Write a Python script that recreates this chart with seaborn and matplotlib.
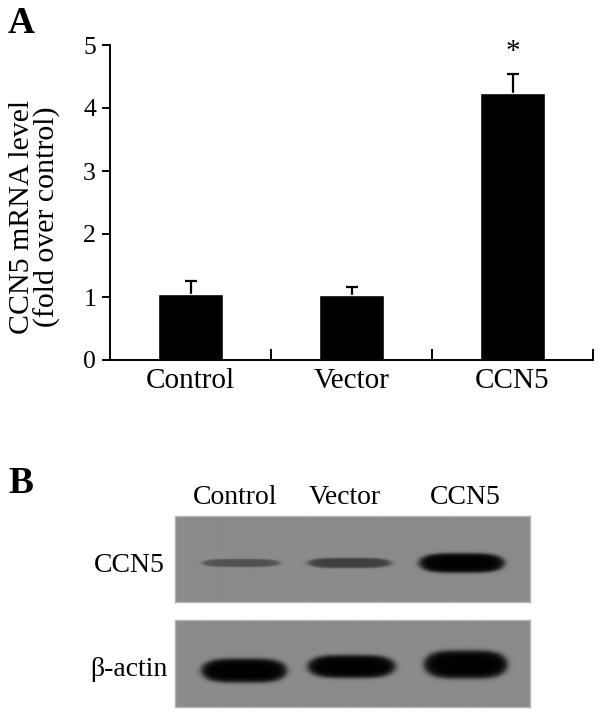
import numpy as np
import pandas as pd
import matplotlib
matplotlib.use("Agg")
import matplotlib.pyplot as plt
import seaborn as sns

# --- data ---
groups = ["Control", "Vector", "CCN5"]
mrna_fold = [1.04, 1.03, 4.24]
mrna_sem = [0.22, 0.13, 0.30]
y_ticks = [0, 1, 2, 3, 4, 5]

lanes = ["Control", "Vector", "CCN5"]
ccn5_band = [0.42, 0.55, 1.00]      # relative band darkness
actin_band = [1.00, 1.00, 1.00]

sns.set_theme(style="white")
plt.rcParams["font.family"] = ["Liberation Serif", "DejaVu Serif"]
plt.rcParams.update({
    "text.color": "black",
    "axes.labelcolor": "black",
    "xtick.color": "black",
    "ytick.color": "black",
})

W, H = 602, 714
fig = plt.figure(figsize=(W / 100, H / 100), dpi=100)


def px_axes(x0, y0, x1, y1):
    return fig.add_axes([x0 / W, 1 - y1 / H, (x1 - x0) / W, (y1 - y0) / H])


# --- Panel A: bar chart ---
ax = px_axes(110, 45, 593, 360)
df = pd.DataFrame({"group": groups, "fold": mrna_fold})
eb = ax.errorbar(range(len(groups)), mrna_fold,
                 yerr=[np.zeros(len(mrna_sem)), mrna_sem],
                 fmt="none", ecolor="black", elinewidth=1.6, capsize=4,
                 capthick=1.6, zorder=1)
eb[1][0].set_visible(False)  # no lower caps
sns.barplot(data=df, x="group", y="fold", color="black", width=0.4,
            errorbar=None, ax=ax, saturation=1, zorder=2)
ax.text(2, mrna_fold[2] + mrna_sem[2] + 0.15, "*", ha="center", va="bottom",
        fontsize=21)

ax.set_xlim(-0.5, 2.5)
ax.set_ylim(0, 5)
ax.set_yticks(y_ticks)
ax.set_yticklabels([str(t) for t in y_ticks], fontsize=18.5)
ax.set_xticks(range(len(groups)))
ax.set_xticklabels(groups, fontsize=21)
ax.tick_params(axis="x", length=0, pad=6)
ax.tick_params(axis="y", direction="out", length=6, width=1.4, pad=4, left=True)
# boundary ticks on x axis, pointing up
ax.set_xticks([0.5, 1.5, 2.5], minor=True)
ax.tick_params(axis="x", which="minor", direction="in", length=8, width=1.4,
               bottom=True)
for s in ["top", "right"]:
    ax.spines[s].set_visible(False)
for s in ["left", "bottom"]:
    ax.spines[s].set_color("black")
    ax.spines[s].set_linewidth(1.4)
ax.set_xlabel("")
ax.set_ylabel("CCN5 mRNA level\n(fold over control)", fontsize=21.5,
              linespacing=0.95)
ax.yaxis.set_label_coords(-0.101, 0.455)

fig.text(8 / W, 1 - 33 / H, "A", fontsize=27, fontweight="bold",
         ha="left", va="baseline")

# --- Panel B: western blot ---
fig.text(8 / W, 1 - 493 / H, "B", fontsize=27, fontweight="bold",
         ha="left", va="baseline")

lane_x = [235, 345, 465]
for lab, x in zip(lanes, lane_x):
    fig.text(x / W, 1 - 498 / H, lab, fontsize=20, ha="center", va="center")

fig.text(165 / W, 1 - 565 / H, "CCN5", fontsize=20, ha="right", va="center")
fig.text(168 / W, 1 - 669 / H, "β-actin", fontsize=20, ha="right", va="center")


def blot(ax, bands, strengths, shape):
    h, w = shape
    yy, xx = np.mgrid[0:h, 0:w] + 0.5
    img = np.full((h, w), 0.545)
    for (cx, cy, hw, hh), s in zip(bands, strengths):
        r = np.abs((xx - cx) / hw) ** 4 + np.abs((yy - cy) / hh) ** 2
        mask = 1 / (1 + np.exp((r - 1) * 5.0))
        img = img * (1 - s * mask)
    ax.imshow(img, cmap="gray", vmin=0, vmax=1, extent=(0, w, h, 0),
              aspect="auto", interpolation="bilinear")
    ax.set_xticks([])
    ax.set_yticks([])
    for s in ax.spines.values():
        s.set_color("#b5b5b5")
        s.set_linewidth(1)


# band geometry in blot pixel coords: centre x, centre y, half width, half height
top_geom = [(66, 47, 38, 4), (174, 47, 41, 5), (286, 47, 42, 9.5)]
bot_geom = [(69, 51, 42, 11.5), (176, 47, 43, 11), (290, 45, 41, 13.5)]

ax_top = px_axes(175, 516, 530, 602)
blot(ax_top, top_geom, ccn5_band, (86, 355))
ax_bot = px_axes(175, 620, 530, 707)
blot(ax_bot, bot_geom, actin_band, (87, 355))

fig.savefig("out.png", dpi=100)
